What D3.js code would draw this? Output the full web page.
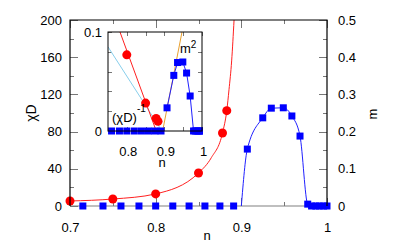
<!DOCTYPE html>
<html><head><meta charset="utf-8">
<script src="https://cdn.jsdelivr.net/npm/d3@7"></script>
<style>
body{margin:0;background:#fff}
text{font-family:"Liberation Sans",Arial,sans-serif;fill:#000}
</style></head>
<body><svg id="c" width="415" height="249"></svg>
<script>
// ---- data ----
const chiN = [0.7, 0.75, 0.8, 0.85, 0.878, 0.883];
const chiV = [5.4, 7.5, 13, 35.5, 78.5, 102.5];
// red fit curve in main panel
const chiFitN = [0.7, 0.75, 0.8, 0.85, 0.865, 0.878, 0.883, 0.8856, 0.8887, 0.8915];
const chiFitV = [5.4, 7.5, 13, 35.5, 52, 78.5, 102.5, 125, 156, 200];
const mN = [0.715,0.7385,0.7595,0.7805,0.80,0.82,0.839,0.8575,0.875,0.891,
            0.907,0.925,0.935,0.949,0.959,0.9685,0.9775,0.982,0.987,0.991,0.996,1.0];
const mV = [0,0,0,0,0,0,0,0,0,0,
            0.153,0.237,0.263,0.264,0.242,0.188,0.005,0,0,0,0,0];
const mCritN = 0.9; // where blue line leaves zero
// inset fit lines (n, value)
const invFitN = [0.7819, 0.8783], invFitV = [0.1, 0];
const skyFitN = [0.75, 0.8936], skyFitV = [0.085, 0];
const m2FitN = [0.8953, 0.9468], m2FitV = [0, 0.1];
// ticks
const xMajor = [0.7, 0.8, 0.9, 1.0], xMinor = [0.75, 0.85, 0.95];
const yLMajor = [0, 40, 80, 120, 160, 200], yLMinor = [20, 60, 100, 140, 180];
const yRMajor = [0, 0.1, 0.2, 0.3, 0.4, 0.5], yRMinor = [0.05, 0.15, 0.25, 0.35, 0.45];
const ixMajor = [0.8, 0.9, 1.0], ixMinor = [0.85, 0.95];
const iyMajor = [0, 0.1], iyMinor = [0.02, 0.04, 0.06, 0.08];

const svg = d3.select("#c");
const L = 70, R = 327, T = 20, B = 206;
const x = d3.scaleLinear([0.7, 1], [L, R]);
const yL = d3.scaleLinear([0, 200], [B, T]);
const yR = d3.scaleLinear([0, 0.5], [B, T]);
const IL = 108, IR = 202, IT = 32, IB = 131;
const ix = d3.scaleLinear([0.75, 1], [IL, IR]);
const iy = d3.scaleLinear([0, 0.1], [IB, IT]);

const defs = svg.append("defs");
defs.append("clipPath").attr("id","mclip").append("rect").attr("x",L).attr("y",T).attr("width",R-L).attr("height",B-T+4);
defs.append("clipPath").attr("id","iclip").append("rect").attr("x",IL).attr("y",IT).attr("width",IR-IL+1).attr("height",IB-IT+5);

const tickCol = "#777";
function ticks(g, axis, vals, size, labels, pad, fmt){
  const a = axis.tickValues(vals).tickSize(-size).tickPadding(pad)
    .tickFormat(labels ? fmt : () => "");
  g.call(a);
  g.select(".domain").remove();
  g.selectAll("line").attr("stroke", tickCol).attr("shape-rendering","crispEdges");
  g.selectAll("text").attr("font-size", 13).attr("font-family","Liberation Sans, Arial, sans-serif").attr("fill","#000");
}
const fmtN = d => d === 1 ? "1" : d3.format(".1f")(d);
const fmtI = d => d === 0 ? "0" : String(d);

// main bottom line (gray)
svg.append("line").attr("x1",L).attr("x2",R).attr("y1",B).attr("y2",B)
  .attr("stroke","#808080").attr("stroke-width",1.2);

// main ticks
ticks(svg.append("g").attr("transform",`translate(0,${B})`), d3.axisBottom(x), xMajor, 8, true, 16.5, fmtN);
ticks(svg.append("g").attr("transform",`translate(0,${B})`), d3.axisBottom(x), xMinor, 4, false, 0);
ticks(svg.append("g").attr("transform",`translate(0,${T})`), d3.axisTop(x), xMajor, 8, false, 0);
ticks(svg.append("g").attr("transform",`translate(0,${T})`), d3.axisTop(x), xMinor, 4, false, 0);
ticks(svg.append("g").attr("transform",`translate(${L},0)`), d3.axisLeft(yL), yLMajor, 8, true, 8, d => String(d));
ticks(svg.append("g").attr("transform",`translate(${L},0)`), d3.axisLeft(yL), yLMinor, 4, false, 0);
ticks(svg.append("g").attr("transform",`translate(${R},0)`), d3.axisRight(yR), yRMajor, 8, true, 11, fmtI);
ticks(svg.append("g").attr("transform",`translate(${R},0)`), d3.axisRight(yR), yRMinor, 4, false, 0);

// main lines
const redLine = d3.line().x(d => x(d[0])).y(d => yL(d[1])).curve(d3.curveMonotoneX);
svg.append("path").attr("clip-path","url(#mclip)")
  .attr("d", redLine(chiFitN.map((n,i)=>[n, chiFitV[i]])))
  .attr("fill","none").attr("stroke","#ff2020").attr("stroke-width",1);

const bluePts = [[mCritN, 0]].concat(mN.map((n,i)=>[n,mV[i]]).filter(d => d[0] > mCritN));
const blueLine = d3.line().x(d => x(d[0])).y(d => yR(d[1])).curve(d3.curveMonotoneX);
svg.append("path").attr("d", blueLine(bluePts))
  .attr("fill","none").attr("stroke","#2020ff").attr("stroke-width",1);

// main points
svg.append("g").selectAll("rect").data(mN.map((n,i)=>[n,mV[i]])).join("rect")
  .attr("x", d => x(d[0]) - 3.5).attr("y", d => yR(d[1]) - 3.5)
  .attr("width",7).attr("height",7).attr("fill","#0000ff");
svg.append("g").selectAll("circle").data(chiN.map((n,i)=>[n,chiV[i]])).join("circle")
  .attr("cx", d => x(d[0])).attr("cy", d => yL(d[1])).attr("r",4.5).attr("fill","#ff0000");

// main border (left, top, right)
svg.append("path").attr("d",`M${L},${B}V${T}H${R}V${B}`).attr("fill","none").attr("stroke","#000").attr("stroke-width",1.2);

// main labels
svg.append("text").attr("transform",`translate(36,113) rotate(-90)`).attr("text-anchor","middle")
  .attr("font-size",14).text("χD");
svg.append("text").attr("transform",`translate(377,114) rotate(-90)`).attr("text-anchor","middle")
  .attr("font-size",13).text("m");
svg.append("text").attr("x",207).attr("y",240).attr("text-anchor","middle").attr("font-size",13).text("n");

// ---- inset ----
const ins = svg.append("g");
ins.append("rect").attr("x",IL).attr("y",IT).attr("width",IR-IL).attr("height",IB-IT).attr("fill","#fff");
ticks(ins.append("g").attr("transform",`translate(0,${IB})`), d3.axisBottom(ix), ixMajor, 4, true, 15.5, fmtN);
ticks(ins.append("g").attr("transform",`translate(0,${IB})`), d3.axisBottom(ix), ixMinor, 4, false, 0);
ticks(ins.append("g").attr("transform",`translate(0,${IT})`), d3.axisTop(ix), ixMajor.concat(ixMinor), 4, false, 0);
ticks(ins.append("g").attr("transform",`translate(${IL},0)`), d3.axisLeft(iy), iyMajor, 4, true, 7, fmtI);
ticks(ins.append("g").attr("transform",`translate(${IL},0)`), d3.axisLeft(iy), iyMinor, 4, false, 0);
ticks(ins.append("g").attr("transform",`translate(${IR},0)`), d3.axisRight(iy), iyMinor, 4, false, 0);
ins.selectAll("g.tick text").attr("dx", 1);

const iline = d3.line().x(d => ix(d[0])).y(d => iy(d[1]));
const ic = ins.append("g").attr("clip-path","url(#iclip)");
ic.append("path").attr("d", iline(skyFitN.map((n,i)=>[n,skyFitV[i]]))).attr("fill","none").attr("stroke","#87ceeb").attr("stroke-width",1);
ic.append("path").attr("d", iline(invFitN.map((n,i)=>[n,invFitV[i]]))).attr("fill","none").attr("stroke","#ff2020").attr("stroke-width",1);
ic.append("path").attr("d", iline(m2FitN.map((n,i)=>[n,m2FitV[i]]))).attr("fill","none").attr("stroke","#e8a030").attr("stroke-width",1);
const m2 = mN.map((n,i)=>[n, mV[i]*mV[i]]);
ic.append("path").attr("d", iline(m2.filter(d => d[0] > mCritN))).attr("fill","none").attr("stroke","#2020ff").attr("stroke-width",1);
ic.append("g").selectAll("rect").data(m2).join("rect")
  .attr("x", d => ix(d[0]) - 3.5).attr("y", d => iy(d[1]) - 3.5)
  .attr("width",7).attr("height",7).attr("fill","#0000ff");
ic.append("g").selectAll("circle").data(chiN.map((n,i)=>[n, 1/chiV[i]])).join("circle")
  .attr("cx", d => ix(d[0])).attr("cy", d => iy(d[1])).attr("r",4.5).attr("fill","#ff0000");
ins.append("rect").attr("x",IL).attr("y",IT).attr("width",IR-IL).attr("height",IB-IT)
  .attr("fill","none").attr("stroke","#000").attr("stroke-width",1);

const t1 = ins.append("text").attr("x",112).attr("y",122).attr("font-size",13);
t1.append("tspan").text("(χD)");
t1.append("tspan").attr("dy",-10).attr("font-size",10).text("-1");
const t2 = ins.append("text").attr("x",180).attr("y",53).attr("font-size",13);
t2.append("tspan").text("m");
t2.append("tspan").attr("dy",-5).attr("font-size",10).text("2");
ins.append("text").attr("x",162).attr("y",167).attr("text-anchor","middle").attr("font-size",13).text("n");
</script></body></html>
